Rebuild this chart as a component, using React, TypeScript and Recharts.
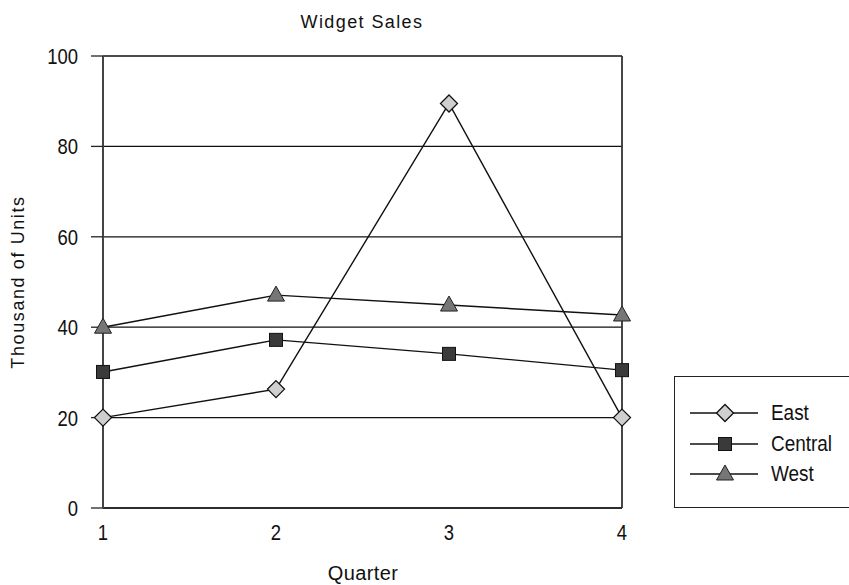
import {
  CartesianGrid,
  Line,
  LineChart,
  ReferenceLine,
  XAxis,
  YAxis,
} from "recharts";

const quarters = [1, 2, 3, 4];
const east = [20, 26.3, 89.5, 20];
const central = [30.1, 37.2, 34.1, 30.5];
const west = [40, 47.1, 44.9, 42.7];
const yTicks = [0, 20, 40, 60, 80, 100];

const FONT = "'Liberation Sans Narrow', 'Liberation Sans', Arial, sans-serif";
const NARROW = 0.84;

const data = quarters.map((q, i) => ({
  q,
  East: east[i],
  Central: central[i],
  West: west[i],
}));

type Shape = "diamond" | "square" | "triangle";

function Marker({ cx, cy, shape }: { cx: number; cy: number; shape: Shape }) {
  if (shape === "diamond") {
    const r = 8.5;
    return (
      <path
        d={`M${cx},${cy - r}L${cx + r},${cy}L${cx},${cy + r}L${cx - r},${cy}Z`}
        fill="#cfcfcf"
        stroke="#111"
        strokeWidth={1.3}
      />
    );
  }
  if (shape === "square") {
    const h = 6.5;
    return (
      <rect x={cx - h} y={cy - h} width={h * 2} height={h * 2} fill="#3a3a3a" stroke="#111" strokeWidth={1} />
    );
  }
  return (
    <path
      d={`M${cx},${cy - 9}L${cx + 8.5},${cy + 6}L${cx - 8.5},${cy + 6}Z`}
      fill="#767676"
      stroke="#222"
      strokeWidth={1}
    />
  );
}

// condensed look: Liberation Sans squeezed horizontally
function NarrowTick({ x, y, payload, anchor, dy }: any) {
  return (
    <text
      transform={`translate(${x},${y}) scale(${NARROW},1)`}
      textAnchor={anchor}
      dy={dy}
      fontSize={22}
      fill="#111"
      fontFamily={FONT}
    >
      {payload.value}
    </text>
  );
}

const series: { key: string; shape: Shape }[] = [
  { key: "East", shape: "diamond" },
  { key: "Central", shape: "square" },
  { key: "West", shape: "triangle" },
];

function LegendBox() {
  return (
    <div
      style={{
        position: "absolute",
        left: 674,
        top: 376,
        width: 190,
        height: 132,
        border: "1.5px solid #222",
        boxSizing: "border-box",
        fontFamily: FONT,
        fontSize: 22,
      }}
    >
      {series.map((s, i) => (
        <div key={s.key} style={{ position: "absolute", left: 0, top: 20 + i * 30.5, height: 32 }}>
          <svg width={90} height={32} style={{ position: "absolute", left: 0, top: 0 }}>
            <line x1={15} x2={83} y1={16} y2={16} stroke="#111" strokeWidth={1.3} />
            <Marker cx={50} cy={16} shape={s.shape} />
          </svg>
          <span
            style={{
              position: "absolute",
              left: 96,
              top: 3,
              lineHeight: "26px",
              whiteSpace: "nowrap",
              transform: `scaleX(${NARROW + 0.02})`,
              transformOrigin: "left center",
            }}
          >
            {s.key}
          </span>
        </div>
      ))}
    </div>
  );
}

export default function App() {
  return (
    <div
      style={{
        position: "absolute",
        left: 0,
        top: 0,
        width: 849,
        height: 585,
        background: "#fff",
        overflow: "hidden",
        fontFamily: FONT,
        color: "#111",
      }}
    >
      <div
        style={{
          position: "absolute",
          left: 262,
          top: 11,
          width: 200,
          textAlign: "center",
          fontSize: 18,
          letterSpacing: 1.4,
          lineHeight: "22px",
        }}
      >
        Widget Sales
      </div>
      <div
        style={{
          position: "absolute",
          left: 263,
          top: 563,
          width: 200,
          textAlign: "center",
          fontSize: 20,
          letterSpacing: 0.4,
          lineHeight: "20px",
        }}
      >
        Quarter
      </div>
      <LineChart
        width={849}
        height={585}
        data={data}
        margin={{ top: 56, right: 227, bottom: 0, left: 0 }}
        style={{ fontFamily: FONT }}
      >
        <CartesianGrid vertical={false} stroke="#111" strokeWidth={1.3} />
        <XAxis
          dataKey="q"
          type="number"
          domain={[1, 4]}
          ticks={quarters}
          tickLine={false}
          tickSize={0}
          tickMargin={16}
          height={77}
          axisLine={{ stroke: "#222", strokeWidth: 1.5 }}
          tick={(p: any) => <NarrowTick {...p} anchor="middle" dy={16} />}
        />
        <YAxis
          domain={[0, 100]}
          ticks={yTicks}
          width={103}
          tickSize={12}
          tickMargin={13}
          tickLine={{ stroke: "#222", strokeWidth: 1.3 }}
          axisLine={{ stroke: "#444", strokeWidth: 2 }}
          tick={(p: any) => <NarrowTick {...p} anchor="end" dy={8} />}
          label={{
            value: "Thousand of Units",
            angle: -90,
            position: "insideLeft",
            offset: 18,
            fill: "#111",
            fontSize: 18,
            style: { textAnchor: "middle", letterSpacing: 1.6 },
          }}
        />
        <ReferenceLine x={4} stroke="#333" strokeWidth={1.8} />
        {series.map((s) => (
          <Line
            key={s.key}
            dataKey={s.key}
            stroke="#111"
            strokeWidth={1.4}
            isAnimationActive={false}
            dot={(p: any) => <Marker key={`${s.key}-${p.index}`} cx={p.cx} cy={p.cy} shape={s.shape} />}
            activeDot={false}
          />
        ))}
      </LineChart>
      <LegendBox />
    </div>
  );
}
